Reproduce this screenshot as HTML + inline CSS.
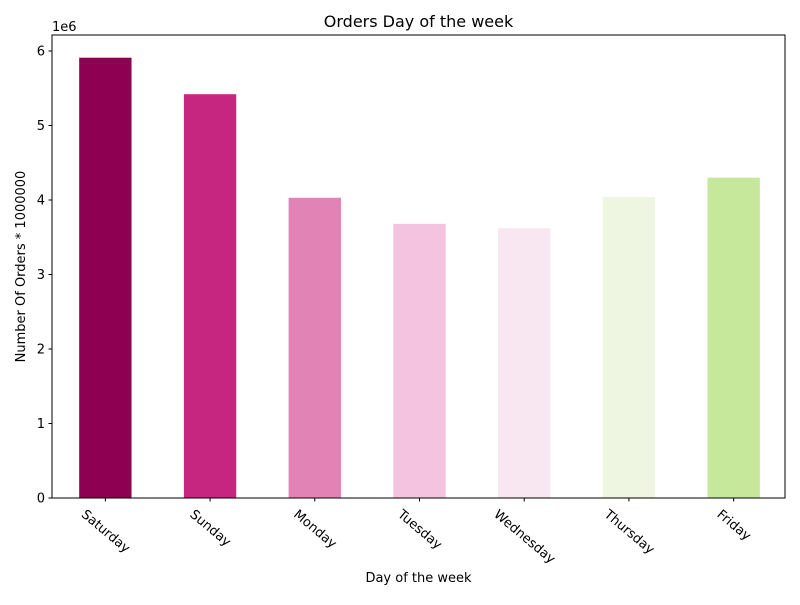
<!DOCTYPE html>
<html><head><meta charset="utf-8"><style>
body{margin:0;background:#fff}
svg{font-family:"DejaVu Sans","Liberation Sans",sans-serif}
</style></head><body>
<svg id="c" width="800" height="600"></svg>
<script>
const categories=["Saturday","Sunday","Monday","Tuesday","Wednesday","Thursday","Friday"];
const orders=[5.91,5.42,4.03,3.68,3.62,4.04,4.30];
const yTicks=[0,1,2,3,4,5,6];
const colors=["#8e0152","#c72680","#e283b6","#f4c3e0","#f8e6f0","#eef5e0","#c6e89b"];
const L=52,R=785,T=35,B=498;
const ys=v=>B-v*(B-51)/6;
const xs=i=>L+1+(i+0.5)*(R-L)/categories.length;
const bw=0.5*(R-L)/categories.length;
const s=document.getElementById('c'),NS="http://www.w3.org/2000/svg";
function mk(t,a,txt){const e=document.createElementNS(NS,t);for(const k in a)e.setAttribute(k,a[k]);if(txt!=null)e.textContent=txt;s.appendChild(e);return e;}
categories.forEach((c,i)=>{
 const r=mk('rect',{x:xs(i)-bw/2,y:ys(orders[i]),width:bw,height:B-ys(orders[i]),fill:colors[i]});
 
 
 const tk=mk('line',{x1:xs(i),x2:xs(i),y1:B,y2:B+3.5,stroke:'#000'});
 
 
 const t=mk('text',{'font-size':13,'text-anchor':'middle','dominant-baseline':'central'},c);
 const w=t.getComputedTextLength();
 const cy=B+10+(w*Math.sin(40*Math.PI/180)+13*Math.cos(40*Math.PI/180))/2;
 t.setAttribute('transform',`translate(${xs(i)},${cy}) rotate(40)`);
 
 
});
yTicks.forEach(v=>{
 const l=mk('line',{x1:L-3.5,x2:L,y1:ys(v),y2:ys(v),stroke:'#000'});
 
 
 const t=mk('text',{x:L-7,y:ys(v)+4.5,'font-size':13,'text-anchor':'end'},v);
 
 
});
const f=mk('rect',{x:L,y:T,width:R-L,height:B-T,fill:'none',stroke:'#000','stroke-width':1});


const o=mk('text',{x:52,y:31,'font-size':13},'1e6');


const ti=mk('text',{x:(L+R)/2,y:27,'font-size':16,'text-anchor':'middle'},'Orders Day of the week');


const xt=mk('text',{x:(L+R)/2,y:582,'font-size':13,'text-anchor':'middle'},'Day of the week');


const yt=mk('text',{'font-size':13,'text-anchor':'middle',transform:`translate(25,${(T+B)/2}) rotate(-90)`},'Number Of Orders * 1000000');


</script>
</body></html>
